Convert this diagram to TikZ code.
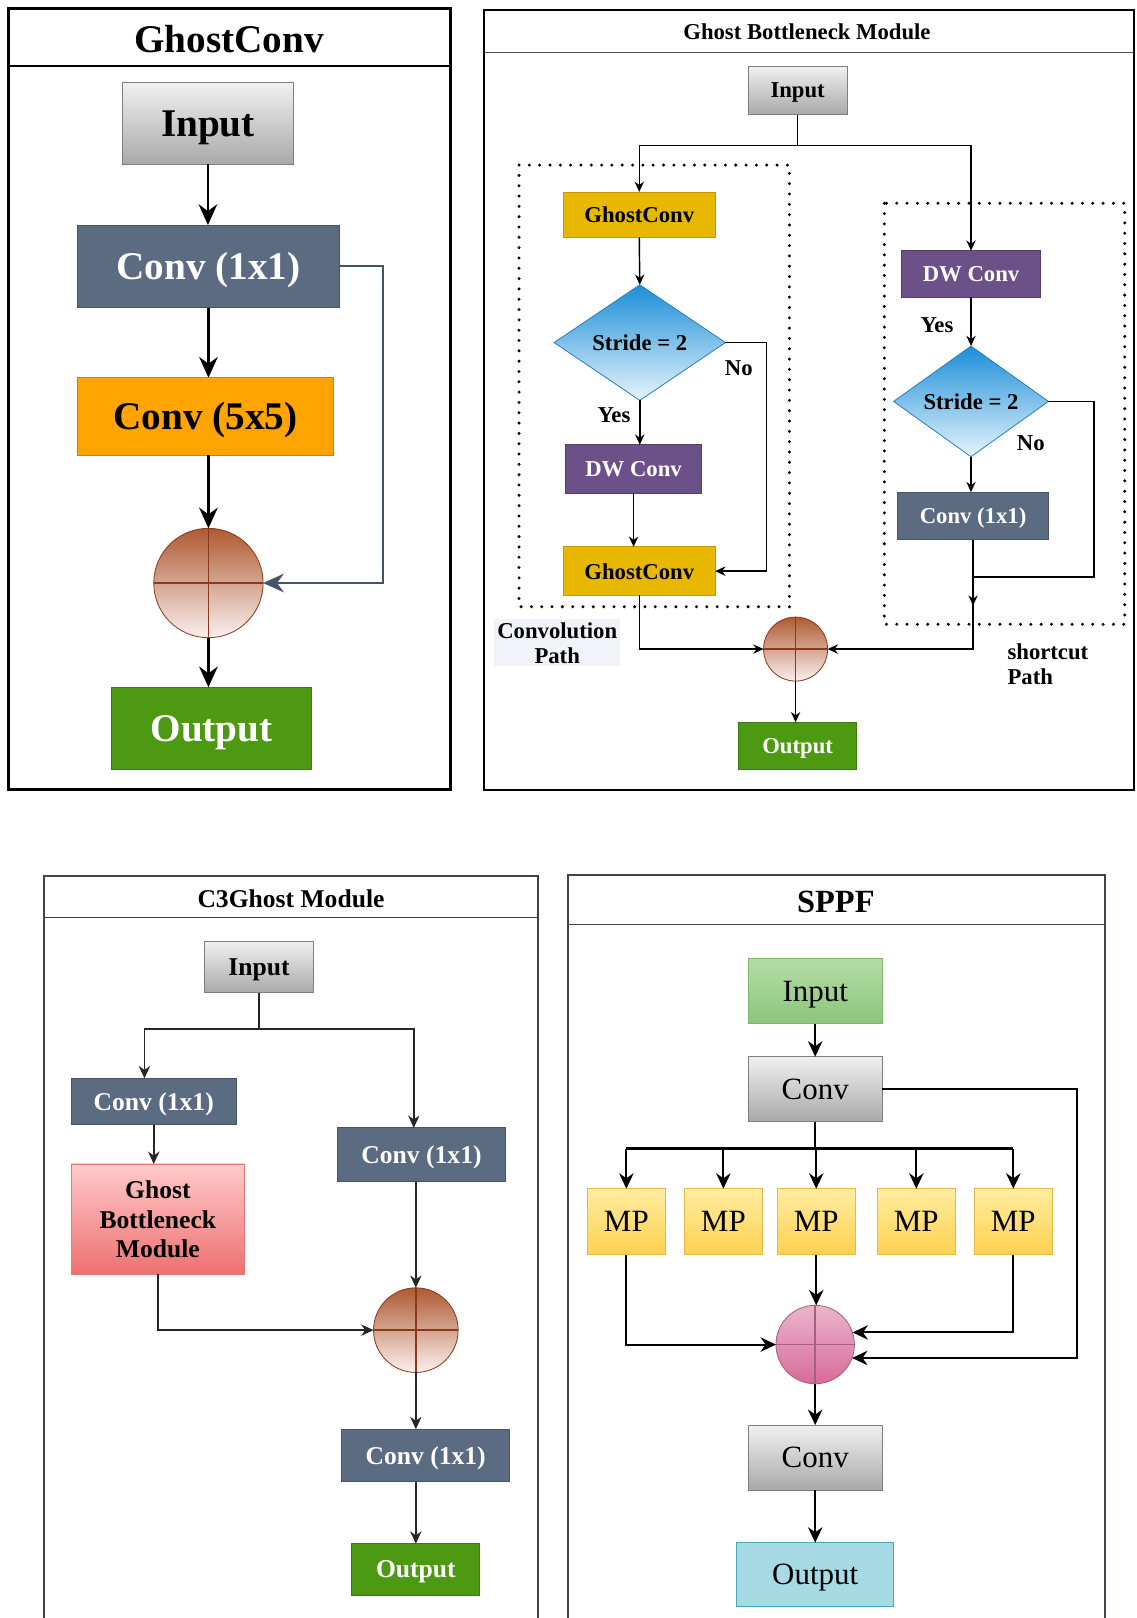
\documentclass[tikz,border=0pt]{standalone}
\usepackage{fontspec}
\setmainfont{Liberation Serif}
\usepackage{tikz}
\usetikzlibrary{arrows.meta,shapes.geometric}

\definecolor{slateC}{HTML}{5B6B82}
\definecolor{slateL}{HTML}{46546A}
\definecolor{orangeC}{HTML}{FFA400}
\definecolor{orangeL}{HTML}{D08000}
\definecolor{greenC}{HTML}{4D9A12}
\definecolor{greenL}{HTML}{3D7A0E}
\definecolor{goldC}{HTML}{E8B800}
\definecolor{goldL}{HTML}{C89800}
\definecolor{purpleC}{HTML}{6C5088}
\definecolor{purpleL}{HTML}{553D6E}
\definecolor{blueT}{HTML}{1B8ED8}
\definecolor{blueB}{HTML}{E6F4FC}
\definecolor{blueL}{HTML}{2A7FC0}
\definecolor{brownT}{HTML}{AE5A32}
\definecolor{brownB}{HTML}{FBF0EE}
\definecolor{brownL}{HTML}{8A3A1C}
\definecolor{pinkT}{HTML}{EBB5CB}
\definecolor{pinkB}{HTML}{D76A9A}
\definecolor{pinkL}{HTML}{A5607E}
\definecolor{redT}{HTML}{FFCACA}
\definecolor{redB}{HTML}{EE7070}
\definecolor{redL}{HTML}{E07A7A}
\definecolor{grnT}{HTML}{B4DDA6}
\definecolor{grnB}{HTML}{8CC57A}
\definecolor{grnL}{HTML}{7DB86C}
\definecolor{mpT}{HTML}{FFEDA0}
\definecolor{mpB}{HTML}{FFD050}
\definecolor{mpL}{HTML}{E6B84A}
\definecolor{cyanC}{HTML}{A6DAE4}
\definecolor{cyanL}{HTML}{4BA7BA}
\definecolor{grayT}{HTML}{F0F0F0}
\definecolor{grayB}{HTML}{A9A9A9}
\definecolor{grayL}{HTML}{7F7F7F}
\definecolor{frameC}{HTML}{3E4452}
\definecolor{lightbg}{HTML}{F2F3F8}

\newcommand{\fonA}{\fontsize{19}{22}\selectfont\bfseries}
\newcommand{\fonB}{\fontsize{11}{13}\selectfont\bfseries}
\newcommand{\fonC}{\fontsize{12.4}{14.5}\selectfont\bfseries}
\newcommand{\fonD}{\fontsize{15.7}{18}\selectfont\bfseries}
\newcommand{\fonE}{\fontsize{15}{18}\selectfont}

\begin{document}
\begin{tikzpicture}[x=0.5pt, y=-0.5pt,
  box/.style={rectangle, inner sep=0pt, outer sep=0pt, align=center, text depth=0pt},
  graybox/.style={box, draw=grayL, top color=grayT, bottom color=grayB},
  slatebox/.style={box, draw=slateL, fill=slateC, text=white},
  orangebox/.style={box, draw=orangeL, fill=orangeC},
  greenbox/.style={box, draw=greenL, fill=greenC, text=white},
  goldbox/.style={box, draw=goldL, fill=goldC},
  purplebox/.style={box, draw=purpleL, fill=purpleC, text=white},
  ghostbox/.style={box, draw=redL, top color=redT, bottom color=redB},
  inbox/.style={box, draw=grnL, top color=grnT, bottom color=grnB},
  mpbox/.style={box, draw=mpL, top color=mpT, bottom color=mpB, minimum width=37.5pt, minimum height=32pt},
  outbox/.style={box, draw=cyanL, fill=cyanC},
  decide/.style={diamond, inner sep=0pt, outer sep=0pt, text depth=0pt, draw=blueL, top color=blueT, bottom color=blueB},
  sum/.style={circle, inner sep=0pt, outer sep=0pt, draw=#1, path picture={\draw[#1, line width=0.7pt] (path picture bounding box.north) -- (path picture bounding box.south) (path picture bounding box.west) -- (path picture bounding box.east);}},
  brownsum/.style={sum=brownL, top color=brownT, bottom color=brownB},
  pinksum/.style={sum=pinkL, top color=pinkT, bottom color=pinkB},
  dotbox/.style={line width=1.6pt, line cap=round, dash pattern=on 0pt off 5pt},
  arrA/.style={line width=1.3pt, -{Stealth[length=10pt, width=9pt]}},
  arrB/.style={line width=0.7pt, -{Stealth[length=5pt, width=4.5pt]}},
  arrC/.style={line width=0.8pt, draw=black!85, -{Stealth[length=6pt, width=5.5pt]}},
  arrD/.style={line width=1pt, -{Stealth[length=7.5pt, width=7pt]}}]

  \useasboundingbox (0,0) rectangle (1101,1568);

  % GhostConv
  \draw[line width=1.5pt] (8,8) rectangle (437,765);
  \draw[line width=1.2pt] (8,64) -- (437,64);
  \node[font=\fonA] (t1) at (222,38) {GhostConv};

  \node[graybox, font=\fonA, minimum width=82.5pt, minimum height=39.5pt] (in1) at (201.5,119.5) {Input};
  \node[slatebox, font=\fonA, minimum width=127pt, minimum height=40pt] (c11) at (202,258) {Conv (1x1)};
  \node[orangebox, font=\fonA, minimum width=124pt, minimum height=37.5pt] (c55) at (199,403.5) {Conv (5x5)};
  \node[brownsum, minimum size=53pt] (add1) at (202,565) {};
  \node[greenbox, font=\fonA, minimum width=97pt, minimum height=40pt] (out1) at (205,706) {Output};
  \coordinate (s1) at (371,258);

  \draw[arrA] (in1.south) -- (in1.south |- c11.north);
  \draw[arrA] (c11.south) -- (c11.south |- c55.north);
  \draw[arrA] (add1.north |- c55.south) -- (add1.north);
  \draw[arrA] (add1.south) -- (add1.south |- out1.north);
  \draw[arrA, line width=0.9pt, draw=slateL] (c11.east) -- (s1) |- (add1.east);

  % Ghost Bottleneck Module
  \draw[line width=1pt] (469,10) rectangle (1099,766);
  \draw[line width=0.7pt, draw=black!70] (469,51) -- (1099,51);
  \node[font=\fonB] (t2) at (782,31) {Ghost Bottleneck Module};

  \draw[dotbox] (503,160) rectangle (765,588);
  \draw[dotbox] (857,197) rectangle (1090,605);

  \node[graybox, font=\fonB, minimum width=48pt, minimum height=23.5pt] (in2) at (773,87.5) {Input};
  \node[goldbox, font=\fonB, minimum width=73.5pt, minimum height=22pt] (gc1) at (619.5,208) {GhostConv};
  \node[decide, font=\fonB, minimum width=83pt, minimum height=56pt] (dia1) at (620,332) {Stride = 2};
  \node[purplebox, font=\fonB, minimum width=66pt, minimum height=23.5pt] (dw1) at (614,454.5) {DW Conv};
  \node[goldbox, font=\fonB, minimum width=73.5pt, minimum height=23.5pt] (gc2) at (619.5,553.5) {GhostConv};
  \node[purplebox, font=\fonB, minimum width=67pt, minimum height=22.5pt] (dw2) at (941,265.5) {DW Conv};
  \node[decide, font=\fonB, minimum width=75pt, minimum height=47.5pt] (dia2) at (941,389) {Stride = 2};
  \node[slatebox, font=\fonB, minimum width=73pt, minimum height=23pt] (cv2) at (943,500) {Conv (1x1)};
  \node[brownsum, minimum size=31pt] (add2) at (771,629) {};
  \node[greenbox, font=\fonB, minimum width=57pt, minimum height=23pt] (out2) at (773,723) {Output};

  \node[font=\fonB] (no1) at (716,357) {No};
  \node[font=\fonB] (yes1) at (595,402) {Yes};
  \node[font=\fonB] (yes2) at (908,315) {Yes};
  \node[font=\fonB] (no2) at (999,429) {No};
  \node[font=\fonB, fill=lightbg, align=center, inner sep=1.5pt] (cpath) at (540,623) {Convolution\\[-1pt]Path};
  \node[font=\fonB, align=left, anchor=west, inner sep=0pt] (spath) at (976,644) {shortcut\\[-1pt]Path};

  \coordinate (b2) at (773,141);
  \coordinate (n1) at (743,553.5);
  \coordinate (j2) at (943,559);
  \coordinate (n2) at (1060,559);

  \draw[line width=0.7pt] (in2.south) -- (b2);
  \draw[arrB] (b2) -| (gc1.north);
  \draw[arrB] (b2) -| (dw2.north);
  \draw[arrB] (gc1.south) -- (dia1.north);
  \draw[arrB] (dia1.south) -- (dia1.south |- dw1.north);
  \draw[arrB] (dw1.south) -- (dw1.south |- gc2.north);
  \draw[arrB] (dia1.east) -| (n1) -- (gc2.east);
  \draw[arrB] (gc2.south) |- (add2.west);
  \draw[arrB] (dw2.south) -- (dia2.north);
  \draw[arrB] (dia2.south) -- (dia2.south |- cv2.north);
  \draw[line width=0.7pt] (dia2.east) -| (n2) -- (j2);
  \draw[arrB] (cv2.south) -- (j2) -- ++(0,28);
  \draw[arrB] (j2) |- (add2.east);
  \draw[arrB] (add2.south) -- (add2.south |- out2.north);

  % C3Ghost Module
  \draw[line width=1pt, draw=frameC] (43,1568) -- (43,849) -- (521,849) -- (521,1568);
  \draw[line width=0.8pt, draw=frameC] (43,889) -- (521,889);
  \node[font=\fonC] (t3) at (282,871) {C3Ghost Module};

  \node[graybox, font=\fonC, minimum width=53pt, minimum height=25pt] (in3) at (251,937) {Input};
  \node[slatebox, font=\fonC, minimum width=80pt, minimum height=22.5pt] (cl3) at (149,1067.5) {Conv (1x1)};
  \node[ghostbox, font=\fonC, minimum width=84pt, minimum height=53.5pt] (gb3) at (153,1181.5) {Ghost\\Bottleneck\\Module};
  \node[slatebox, font=\fonC, minimum width=81.5pt, minimum height=26pt] (cr3) at (408.5,1119) {Conv (1x1)};
  \node[brownsum, minimum size=41pt] (add3) at (403,1289) {};
  \node[slatebox, font=\fonC, minimum width=81.5pt, minimum height=25.5pt] (cb3) at (412.5,1410.5) {Conv (1x1)};
  \node[greenbox, font=\fonC, minimum width=62pt, minimum height=25pt] (out3) at (403,1521) {Output};

  \coordinate (b3l) at (140,997);
  \coordinate (b3r) at (401,997);

  \draw[arrC] (in3.south) |- (b3l) -- (b3l |- cl3.north);
  \draw[arrC] (in3.south |- b3l) -- (b3r) -- (b3r |- cr3.north);
  \draw[arrC] (cl3.south) -- (cl3.south |- gb3.north);
  \draw[arrC] (gb3.south) |- (add3.west);
  \draw[arrC] (add3.north |- cr3.south) -- (add3.north);
  \draw[arrC] (add3.south) -- (add3.south |- cb3.north);
  \draw[arrC] (out3.north |- cb3.south) -- (out3.north);

  % SPPF
  \draw[line width=1pt, draw=frameC] (550,1568) -- (550,848) -- (1071,848) -- (1071,1568);
  \draw[line width=0.8pt, draw=frameC] (550,896) -- (1071,896);
  \node[font=\fonD] (t4) at (810,874) {SPPF};

  \node[inbox, font=\fonE, minimum width=65pt, minimum height=31.5pt] (in4) at (790,960.5) {Input};
  \node[graybox, font=\fonE, minimum width=65pt, minimum height=31.5pt] (cv41) at (790,1055.5) {Conv};
  \foreach \i/\x in {1/607,2/701,3/791,4/888,5/982}
    \node[mpbox, font=\fonE] (mp\i) at (\x,1184) {MP};
  \node[pinksum, minimum size=38pt] (add4) at (790,1303) {};
  \node[graybox, font=\fonE, minimum width=65pt, minimum height=31.5pt] (cv42) at (790,1412.5) {Conv};
  \node[outbox, font=\fonE, minimum width=76pt, minimum height=31pt] (out4) at (790,1526) {Output};

  \coordinate (b4) at (790,1113);
  \coordinate (s4) at (1044,1055.5);

  \draw[arrD] (in4.south) -- (in4.south |- cv41.north);
  \draw[line width=1pt] (cv41.south) -- (b4);
  \draw[line width=1pt] (mp1.north |- b4) -- (mp5.north |- b4);
  \foreach \i in {1,...,5}
    \draw[arrD] (mp\i.north |- b4) -- (mp\i.north);
  \draw[arrD] (mp1.south) |- (add4.west);
  \draw[arrD] (mp3.south) -- (mp3.south |- add4.north);
  \draw[arrD] (mp5.south) |- (add4.18);
  \draw[arrD] (cv41.east) -- (s4) |- (add4.-20);
  \draw[arrD] (add4.south) -- (add4.south |- cv42.north);
  \draw[arrD] (cv42.south) -- (cv42.south |- out4.north);

\end{tikzpicture}
\end{document}
